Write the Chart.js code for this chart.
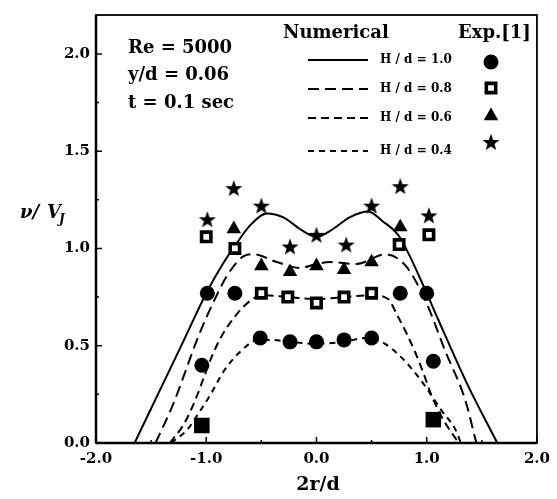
<!DOCTYPE html>
<html>
<head>
<meta charset="utf-8">
<script src="https://cdn.jsdelivr.net/npm/chart.js@4.4.1/dist/chart.umd.min.js"></script>
<style>
  html, body { margin: 0; padding: 0; background: #fff; }
  canvas { display: block; }
</style>
</head>
<body>
<canvas id="chart" width="557" height="499"></canvas>
<script>
// numerical curves
const num10X = [-1.65, -1.43, -1.21, -1.0, -0.85, -0.72, -0.6, -0.45, -0.3, -0.15, 0, 0.15, 0.3, 0.47, 0.6, 0.74, 0.83, 1.0, 1.1, 1.37, 1.64];
const num10Y = [0, 0.26, 0.52, 0.77, 0.92, 1.03, 1.12, 1.18, 1.16, 1.10, 1.06, 1.10, 1.16, 1.19, 1.14, 1.07, 0.98, 0.77, 0.64, 0.30, 0];
const num08X = [-1.46, -1.3, -1.07, -0.93, -0.8, -0.66, -0.57, -0.36, -0.15, 0, 0.12, 0.36, 0.63, 0.81, 0.99, 1.17, 1.35, 1.45];
const num08Y = [0, 0.2, 0.55, 0.73, 0.87, 0.96, 0.97, 0.93, 0.90, 0.92, 0.93, 0.92, 0.97, 0.91, 0.73, 0.47, 0.22, 0];
const num06X = [-1.33, -1.2, -1.1, -1.02, -0.96, -0.87, -0.78, -0.68, -0.58, -0.5, -0.25, 0, 0.25, 0.5, 0.65, 0.73, 0.82, 0.9, 0.97, 1.04, 1.15, 1.29];
const num06Y = [0, 0.1, 0.22, 0.34, 0.43, 0.54, 0.62, 0.69, 0.74, 0.76, 0.75, 0.74, 0.75, 0.76, 0.74, 0.66, 0.56, 0.46, 0.36, 0.25, 0.12, 0];
const num04X = [-1.32, -1.17, -1.05, -0.96, -0.84, -0.69, -0.53, -0.4, -0.25, 0, 0.25, 0.45, 0.59, 0.77, 0.95, 1.06, 1.13, 1.26, 1.31];
const num04Y = [0, 0.07, 0.17, 0.25, 0.37, 0.47, 0.53, 0.53, 0.52, 0.51, 0.52, 0.54, 0.52, 0.44, 0.32, 0.23, 0.17, 0.07, 0];

// experimental points Exp.[1]
const expCircX = [-1.04, -0.99, -0.74, -0.51, -0.24, 0, 0.25, 0.5, 0.76, 1.0, 1.06];
const expCircY = [0.40, 0.77, 0.77, 0.54, 0.52, 0.52, 0.53, 0.54, 0.77, 0.77, 0.42];
const expSqX = [-1.0, -0.74, -0.5, -0.26, 0, 0.25, 0.5, 0.75, 1.02];
const expSqY = [1.06, 1.0, 0.77, 0.75, 0.72, 0.75, 0.77, 1.02, 1.07];
const expSqFillX = [-1.04, 1.06];
const expSqFillY = [0.09, 0.12];
const expTriX = [-0.75, -0.5, -0.24, 0, 0.25, 0.5, 0.76];
const expTriY = [1.10, 0.91, 0.88, 0.91, 0.89, 0.93, 1.11];
const expStarX = [-0.99, -0.75, -0.5, -0.24, 0, 0.27, 0.5, 0.76, 1.02];
const expStarY = [1.15, 1.31, 1.22, 1.01, 1.07, 1.02, 1.22, 1.32, 1.17];

const curveLabels = ['H / d = 1.0', 'H / d = 0.8', 'H / d = 0.6', 'H / d = 0.4'];
const notes = ['Re = 5000', 'y/d = 0.06', 't = 0.1 sec'];

const SERIF = '"DejaVu Serif", "Liberation Serif", serif';

function pts(xs, ys) {
  return xs.map((x, i) => ({ x: x, y: ys[i] }));
}

// filled five point star used as a point style
function makeStar(size) {
  const c = document.createElement('canvas');
  c.width = size;
  c.height = size;
  const g = c.getContext('2d');
  const cx = size / 2, cy = size / 2 + 0.8;
  const ro = size / 2, ri = size * 0.2;
  g.beginPath();
  for (let i = 0; i < 10; i++) {
    const r = i % 2 ? ri : ro;
    const a = -Math.PI / 2 + i * Math.PI / 5;
    g.lineTo(cx + r * Math.cos(a), cy + r * Math.sin(a));
  }
  g.closePath();
  g.fillStyle = '#000';
  g.fill();
  return c;
}
const star = makeStar(18);

const marker = {
  circ: { pointStyle: 'circle', radius: 7.5, bg: '#000', bw: 0 },
  sq: { pointStyle: 'rect', radius: 6.6, bg: '#fff', bw: 3.6 },
  tri: { pointStyle: 'triangle', radius: 8.4, bg: '#000', bw: 0 },
  star: { pointStyle: star, radius: 9, bg: '#000', bw: 0 }
};

function expSet(data, m) {
  return {
    data: data,
    showLine: false,
    order: 0,
    pointStyle: m.pointStyle,
    pointRadius: m.radius,
    pointBackgroundColor: m.bg,
    pointBorderColor: '#000',
    pointBorderWidth: m.bw
  };
}

function numSet(data, dash) {
  return {
    data: data,
    showLine: true,
    order: 1,
    borderColor: '#000',
    borderWidth: 2,
    borderDash: dash,
    pointRadius: 0,
    cubicInterpolationMode: 'monotone',
    fill: false
  };
}

const dashes = [[], [11, 6], [8, 5], [6, 5]];

const annotations = {
  id: 'annotations',
  afterDraw(chart) {
    const { ctx, chartArea: a, scales: { x, y } } = chart;
    ctx.save();
    ctx.fillStyle = '#000';
    ctx.strokeStyle = '#000';

    // frame
    ctx.lineWidth = 1.8;
    ctx.strokeRect(a.left, a.top, a.right - a.left, a.bottom - a.top);
    ctx.lineWidth = 2.5;
    ctx.beginPath();
    ctx.moveTo(a.left, a.bottom);
    ctx.lineTo(a.right, a.bottom);
    ctx.moveTo(a.left, a.top);
    ctx.lineTo(a.left, a.bottom);
    ctx.stroke();

    // inward tick marks
    ctx.lineWidth = 1.5;
    ctx.beginPath();
    for (let v = -2; v <= 2.001; v += 0.5) {
      const px = x.getPixelForValue(v);
      const len = Math.abs(v % 1) < 0.01 ? 6 : 3;
      ctx.moveTo(px, a.bottom);
      ctx.lineTo(px, a.bottom - len);
    }
    for (let v = 0; v <= 2.201; v += 0.25) {
      const py = y.getPixelForValue(v);
      const len = Math.abs(v % 0.5) < 0.01 ? 6 : 3;
      ctx.moveTo(a.left, py);
      ctx.lineTo(a.left + len, py);
    }
    ctx.stroke();

    // case notes
    ctx.font = 'bold 18px ' + SERIF;
    ctx.textAlign = 'left';
    ctx.textBaseline = 'alphabetic';
    [53, 80, 108].forEach((by, i) => ctx.fillText(notes[i], 128, by));

    // legend headings
    ctx.fillText('Numerical', 283, 38);
    ctx.fillText('Exp.[1]', 458, 38);

    // legend rows
    const rowY = [60, 89, 118, 151];
    ctx.textBaseline = 'middle';
    ctx.font = 'bold 12px ' + SERIF;
    rowY.forEach((ry, i) => {
      ctx.save();
      ctx.lineWidth = 2;
      ctx.setLineDash(dashes[i]);
      ctx.beginPath();
      ctx.moveTo(308, ry);
      ctx.lineTo(368, ry);
      ctx.stroke();
      ctx.restore();
      ctx.fillText(curveLabels[i], 380, ry);
    });

    // legend markers
    const mk = [marker.circ, marker.sq, marker.tri, marker.star];
    const mkY = [62, 88, 116, 142];
    mk.forEach((m, i) => {
      ctx.fillStyle = m.bg;
      ctx.strokeStyle = '#000';
      ctx.lineWidth = m.bw;
      Chart.helpers.drawPoint(ctx, { pointStyle: m.pointStyle, radius: m.radius, borderWidth: m.bw, rotation: 0 }, 491, mkY[i]);
    });
    ctx.fillStyle = '#000';

    // axis titles
    ctx.textBaseline = 'alphabetic';
    ctx.textAlign = 'center';
    ctx.font = 'bold 19px ' + SERIF;
    ctx.fillText('2r/d', 318, 490);

    ctx.textAlign = 'left';
    ctx.font = 'italic bold 18px ' + SERIF;
    ctx.fillText('ν/', 20, 218);
    ctx.fillText('V', 47, 218);
    ctx.font = 'italic bold 12px ' + SERIF;
    ctx.fillText('J', 59, 223);
    ctx.restore();
  }
};

new Chart(document.getElementById('chart'), {
  type: 'scatter',
  data: {
    datasets: [
      expSet(pts(expCircX, expCircY), marker.circ),
      expSet(pts(expSqX, expSqY), marker.sq),
      expSet(pts(expSqFillX, expSqFillY), { pointStyle: 'rect', radius: 11, bg: '#000', bw: 0 }),
      expSet(pts(expTriX, expTriY), marker.tri),
      expSet(pts(expStarX, expStarY), marker.star),
      numSet(pts(num10X, num10Y), dashes[0]),
      numSet(pts(num08X, num08Y), dashes[1]),
      numSet(pts(num06X, num06Y), dashes[2]),
      numSet(pts(num04X, num04Y), dashes[3])
    ]
  },
  options: {
    responsive: false,
    animation: false,
    devicePixelRatio: 1,
    layout: { padding: { top: 13, right: 17, left: 0, bottom: 0 } },
    plugins: {
      legend: { display: false },
      tooltip: { enabled: false }
    },
    scales: {
      x: {
        type: 'linear',
        min: -2,
        max: 2,
        afterFit: (s) => { s.height = 56; },
        grid: { display: false, drawTicks: false, tickLength: 0 },
        border: { display: false },
        ticks: {
          stepSize: 1,
          padding: 7,
          color: '#000',
          font: { family: SERIF, size: 15, weight: 'bold' },
          callback: (v) => v.toFixed(1)
        }
      },
      y: {
        type: 'linear',
        min: 0,
        max: 2.2,
        afterFit: (s) => { s.width = 96; },
        grid: { display: false, drawTicks: false, tickLength: 0 },
        border: { display: false },
        ticks: {
          stepSize: 0.5,
          includeBounds: false,
          padding: 6,
          color: '#000',
          font: { family: SERIF, size: 15, weight: 'bold' },
          callback: (v) => v.toFixed(1)
        }
      }
    }
  },
  plugins: [annotations]
});
</script>
</body>
</html>
